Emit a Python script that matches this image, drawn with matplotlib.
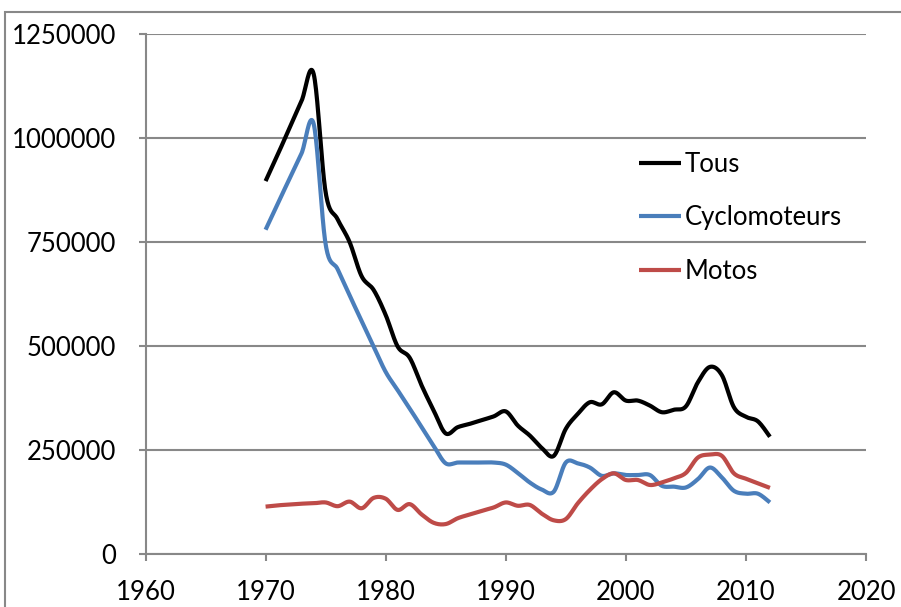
import numpy as np
import matplotlib.pyplot as plt
from matplotlib.patches import Rectangle

plt.rcParams['font.family'] = ['Lato', 'DejaVu Sans']

# Data (number per year)
years = list(range(1970, 2013))
tous = [897000, 960000, 1025000, 1090000, 1155000, 870000, 805000, 750000, 668000, 635000,
        575000, 499000, 472000, 405000, 345000, 290000, 305000, 313000, 322000, 331000,
        343000, 309000, 285000, 255000, 236000, 301000, 337000, 365000, 360000, 389000,
        369000, 369000, 357000, 341000, 347000, 355000, 413000, 450000, 430000, 353000,
        330000, 319000, 282000]
cyclos = [780000, 842000, 903000, 964000, 1035000, 745000, 685000, 622000, 560000, 499000,
          438000, 394000, 350000, 305000, 260000, 218000, 220000, 220000, 220000, 220000,
          215000, 195000, 172000, 155000, 150000, 220000, 218000, 208000, 188000, 194000,
          190000, 190000, 190000, 164000, 162000, 160000, 180000, 208000, 184000, 152000,
          145000, 145000, 124000]
motos = [114000, 117000, 119000, 121000, 122000, 124000, 115000, 126000, 110000, 135000,
         133000, 106000, 120000, 95000, 75000, 72000, 86000, 95000, 104000, 112000,
         124000, 116000, 118000, 97000, 81000, 84000, 122000, 154000, 180000, 194000,
         178000, 178000, 166000, 172000, 182000, 195000, 232000, 239000, 236000, 194000,
         181000, 170000, 159000]
labels = ['Tous', 'Cyclomoteurs', 'Motos']
colors = ['#000000', '#4A7EBB', '#BE4B48']


def smooth(x, y, n=20):
    # Excel-like smoothed line (Catmull-Rom bezier through the points)
    x = np.asarray(x, float)
    y = np.asarray(y, float)
    px = np.concatenate([[x[0]], x, [x[-1]]])
    py = np.concatenate([[y[0]], y, [y[-1]]])
    t = np.linspace(0, 1, n, endpoint=False)
    xs, ys = [], []
    for i in range(1, len(px) - 2):
        p0 = np.array([px[i], py[i]])
        p3 = np.array([px[i + 1], py[i + 1]])
        c1 = p0 + (p3 - np.array([px[i - 1], py[i - 1]])) / 6
        c2 = p3 - (np.array([px[i + 2], py[i + 2]]) - p0) / 6
        for tt in t:
            pt = ((1 - tt) ** 3) * p0 + 3 * ((1 - tt) ** 2) * tt * c1 + 3 * (1 - tt) * tt ** 2 * c2 + tt ** 3 * p3
            xs.append(pt[0])
            ys.append(pt[1])
    xs.append(x[-1])
    ys.append(y[-1])
    return xs, ys


fig = plt.figure(figsize=(9.01, 6.07), dpi=100)
ax = fig.add_axes([145.5 / 901, (607 - 554) / 607, 720.5 / 901, 519.7 / 607])

for series, lab, col in zip([tous, cyclos, motos], labels, colors):
    sx, sy = smooth(years, series)
    ax.plot(sx, sy, color=col, lw=3, label=lab, solid_capstyle='butt', zorder=3)

grid_col = '#888888'
ax.set_xlim(1960, 2020)
ax.set_ylim(0, 1250000)
ax.set_xticks(range(1960, 2021, 10))
ax.set_yticks(range(0, 1250001, 250000))
ax.set_yticklabels([str(v) for v in range(0, 1250001, 250000)])
ax.grid(axis='y', color=grid_col, lw=1.5)
ax.set_axisbelow(True)
for s in ['top', 'right']:
    ax.spines[s].set_visible(False)
for s in ['left', 'bottom']:
    ax.spines[s].set_color(grid_col)
    ax.spines[s].set_linewidth(1.5)
ax.tick_params(axis='y', length=5, width=1.5, color=grid_col, labelsize=18.5, pad=16)
ax.tick_params(axis='x', length=5, width=1.5, color=grid_col, labelsize=18.5, pad=14)

ax.legend(loc='upper left', bbox_to_anchor=(0.670, 0.793), frameon=False, fontsize=18.5,
          handlelength=1.67, handletextpad=0.12, labelspacing=1.1, borderaxespad=0)

# outer chart frame
fig.patches.append(Rectangle((5 / 901, -0.05), 1.0, (607 - 12) / 607 + 0.05,
                             transform=fig.transFigure, fill=False,
                             edgecolor=grid_col, lw=1.5))

plt.savefig('out.png', dpi=100)
